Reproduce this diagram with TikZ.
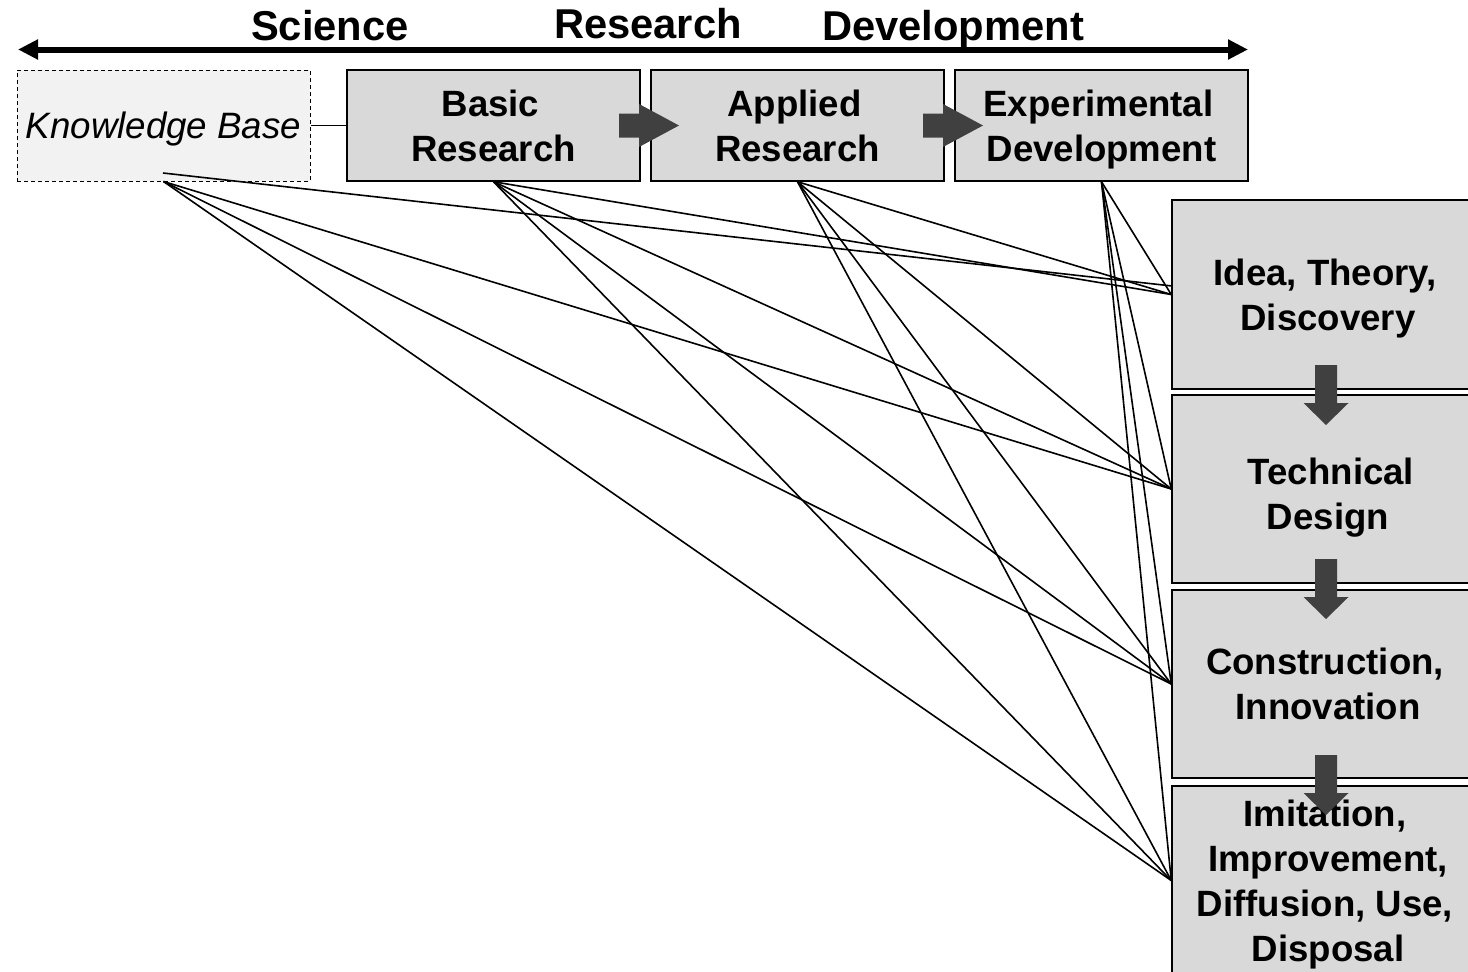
\documentclass[tikz,border=0pt]{standalone}
\usepackage{fontspec}
\setmainfont{Liberation Sans}
\usetikzlibrary{arrows.meta}
\definecolor{boxgray}{HTML}{D9D9D9}
\definecolor{kbgray}{HTML}{F2F2F2}
\definecolor{arrowgray}{HTML}{404040}
\begin{document}
\begin{tikzpicture}[x=1pt,y=-1pt,
  stage/.style={draw=black, line width=1.5pt, fill=boxgray, inner sep=0pt,
    align=center, text depth=0pt, font=\fontsize{36.6}{45}\selectfont\bfseries},
  topbox/.style={stage, minimum width=293pt, minimum height=111pt},
  sidebox/.style={stage, minimum width=306pt, minimum height=188pt},
  kbbox/.style={draw=black, line width=1pt, dash pattern=on 4pt off 3pt,
    fill=kbgray, inner sep=0pt, minimum width=293pt, minimum height=111pt,
    text depth=0pt, font=\fontsize{36.7}{45}\selectfont\itshape},
  toplabel/.style={font=\fontsize{41.7}{50}\selectfont\bfseries, inner sep=0pt, anchor=base},
  link/.style={draw=black, line width=1.6pt},
  harrow/.pic={\fill[arrowgray] (0,-12) -- (20,-12) -- (20,-21.5) -- (60,0)
    -- (20,21.5) -- (20,12) -- (0,12) -- cycle;},
  varrow/.pic={\fill[arrowgray] (-11,0) -- (11,0) -- (11,38) -- (22.5,38)
    -- (0,60) -- (-22.5,38) -- (-11,38) -- cycle;}
]
\useasboundingbox (0,0) rectangle (1468,972);

% scale axis
\coordinate (axl) at (18,49.5);
\coordinate (axr) at (1248,49.5);
\draw[line width=6pt, {Triangle[length=20pt,width=19pt]}-{Triangle[length=20pt,width=19pt]}] (axl) -- (axr);
\node[toplabel] (sci) at (330,40) {Science};
\node[toplabel] (res) at (648,38) {Research};
\node[toplabel] (dev) at (953,40) {Development};

% stages of the R&D chain
\node[kbbox] (kb) at (163.5,125.5) {Knowledge Base};
\node[topbox] (basic) at (493.5,125.5) {Basic\hspace*{6pt}\\Research};
\node[topbox] (applied) at (797.5,125.5) {Applied\hspace*{6pt}\\Research};
\node[topbox] (exper) at (1101.5,125.5) {Experimental\hspace*{6pt}\\Development};
\draw[line width=1.6pt] (kb.east) -- (basic.west);

% stages of the innovation process
\node[sidebox, minimum height=189pt] (idea) at (1325,294.5) {Idea, Theory,\\\hspace*{6pt}Discovery};
\node[sidebox, text height=80pt] (tech) at (1325,489) {\hspace*{12pt}Technical\\\hspace*{6pt}Design};
\node[sidebox] (constr) at (1325,684) {Construction,\\\hspace*{6pt}Innovation};
\node[sidebox, minimum height=189pt] (imit) at (1325,880.5) {Imitation,\\\hspace*{6pt}Improvement,\\Diffusion, Use,\\\hspace*{6pt}Disposal};

% links between the two chains
\coordinate (kbtop) at (163,173);
\coordinate (ideatop) at (1172,286);
\draw[link] (kbtop) -- (ideatop);
\foreach \t in {tech,constr,imit} \draw[link] (kb.south) -- (\t.west);
\foreach \s in {basic,applied,exper}
  \foreach \t in {idea,tech,constr,imit}
    \draw[link] (\s.south) -- (\t.west);

% block arrows
\pic at (619,125.5) {harrow};
\pic at (923,125.5) {harrow};
\pic at (1326,365) {varrow};
\pic at (1326,559) {varrow};
\pic at (1326,755) {varrow};
\end{tikzpicture}
\end{document}
